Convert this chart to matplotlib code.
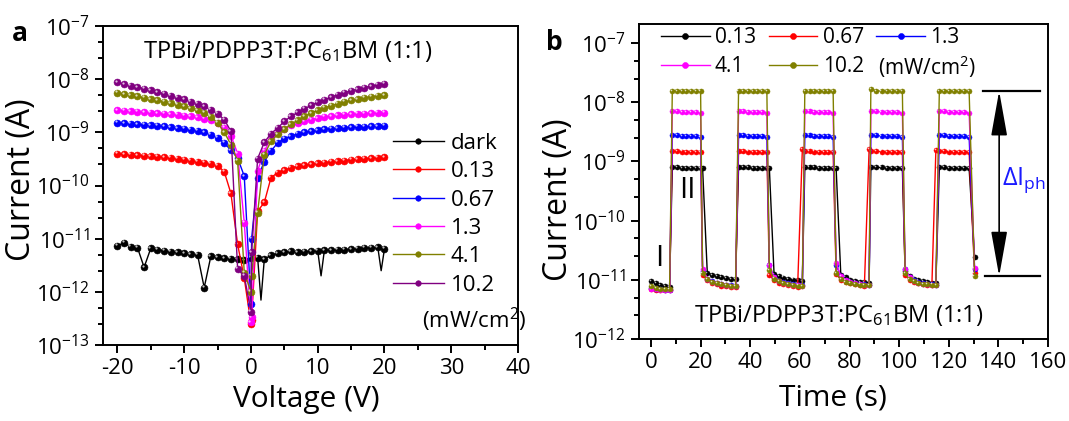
import matplotlib
matplotlib.use("Agg")
import matplotlib.pyplot as plt
from matplotlib.ticker import MultipleLocator, LogLocator, NullFormatter
from matplotlib.transforms import offset_copy

plt.rcParams["font.family"] = "Open Sans"
plt.rcParams["mathtext.fontset"] = "custom"
plt.rcParams["mathtext.rm"] = "Open Sans"
plt.rcParams["mathtext.it"] = "Open Sans:italic"
plt.rcParams["mathtext.bf"] = "Open Sans:bold"
plt.rcParams["axes.unicode_minus"] = False

# ---------------------------------------------------------------------------
# (a) I-V sweeps, dark and under illumination
# ---------------------------------------------------------------------------
dark_v = [-20, -19, -18, -17, -16, -15, -14, -13, -12, -11, -10, -9, -8, -7, -6,
          -5, -4, -3, -2, -1, 0, 1, 1.5, 2, 3, 4, 5, 6, 7, 8, 9, 10, 10.5,
          11, 12, 13, 14, 15, 16, 17, 18, 19, 19.5, 20]
dark_i = [7.3e-12, 8.4e-12, 7.0e-12, 6.8e-12, 2.9e-12, 6.6e-12, 6.2e-12, 5.9e-12,
          5.7e-12, 5.5e-12, 5.3e-12, 5.1e-12, 5.0e-12, 1.2e-12, 4.7e-12, 4.5e-12,
          4.3e-12, 4.2e-12, 4.1e-12, 3.9e-12, 4.4e-12, 4.4e-12, 7.0e-13, 4.1e-12,
          4.9e-12, 5.3e-12, 5.5e-12, 5.8e-12, 5.6e-12, 5.7e-12, 5.8e-12, 5.9e-12,
          2.0e-12, 6.1e-12, 6.1e-12, 6.2e-12, 6.2e-12, 6.35e-12, 6.5e-12, 6.7e-12,
          6.7e-12, 6.85e-12, 2.5e-12, 6.5e-12]

light_v = [-20, -19, -18, -17, -16, -15, -14, -13, -12, -11, -10, -9, -8, -7, -6,
           -5, -4, -3, -2, -1, 0, 0.1, 1, 2, 3, 4, 5, 6, 7, 8, 9, 10, 11, 12, 13,
           14, 15, 16, 17, 18, 19, 20]
iv_013 = [3.98e-10, 3.89e-10, 3.80e-10, 3.72e-10, 3.63e-10, 3.55e-10, 3.47e-10,
          3.39e-10, 3.31e-10, 3.16e-10, 3.05e-10, 2.95e-10, 2.82e-10, 2.69e-10,
          2.57e-10, 2.37e-10, 1.82e-10, 7.1e-11, 7.9e-12, 1.8e-12, 2.5e-13, 3.0e-13,
          3.3e-11, 4.8e-11, 1.4e-10, 1.75e-10, 1.95e-10, 2.14e-10, 2.29e-10, 2.40e-10,
          2.51e-10, 2.60e-10, 2.69e-10, 2.79e-10, 2.88e-10, 2.95e-10, 3.05e-10,
          3.13e-10, 3.20e-10, 3.27e-10, 3.35e-10, 3.43e-10]
iv_067 = [1.51e-9, 1.48e-9, 1.45e-9, 1.41e-9, 1.38e-9, 1.35e-9, 1.32e-9, 1.29e-9,
          1.24e-9, 1.20e-9, 1.16e-9, 1.12e-9, 1.07e-9, 1.0e-9, 9.1e-10, 7.9e-10,
          6.3e-10, 4.6e-10, 3.3e-10, 1.5e-10, 6.0e-13, 1.0e-11,
          1.41e-10, 2.82e-10, 4.47e-10, 6.31e-10, 7.59e-10, 8.51e-10, 9.33e-10,
          1.0e-9, 1.05e-9, 1.10e-9, 1.14e-9, 1.17e-9, 1.20e-9, 1.23e-9, 1.245e-9,
          1.26e-9, 1.27e-9, 1.29e-9, 1.30e-9, 1.32e-9]
iv_13 = [2.59e-9, 2.55e-9, 2.48e-9, 2.44e-9, 2.38e-9, 2.34e-9, 2.28e-9, 2.24e-9,
         2.19e-9, 2.12e-9, 2.06e-9, 2.0e-9, 1.91e-9, 1.81e-9, 1.68e-9, 1.51e-9,
         1.21e-9, 8.7e-10, 4.0e-10, 2.0e-11, 2.7e-13, 3.3e-13,
         1.9e-10, 4.47e-10, 7.59e-10, 1.0e-9, 1.17e-9, 1.35e-9, 1.48e-9, 1.62e-9,
         1.74e-9, 1.84e-9, 1.95e-9, 2.02e-9, 2.09e-9, 2.14e-9, 2.19e-9, 2.24e-9,
         2.26e-9, 2.29e-9, 2.32e-9, 2.34e-9]
iv_41 = [5.55e-9, 5.25e-9, 4.94e-9, 4.73e-9, 4.47e-9, 4.22e-9, 3.98e-9, 3.76e-9,
         3.55e-9, 3.31e-9, 3.09e-9, 2.86e-9, 2.59e-9, 2.31e-9, 1.95e-9, 1.51e-9,
         1.0e-9, 5.9e-10, 2.9e-10, 2.3e-12, 1.0e-12, 2.0e-12,
         3.1e-11, 3.8e-10, 6.76e-10, 9.12e-10, 1.15e-9, 1.41e-9, 1.70e-9, 2.0e-9,
         2.29e-9, 2.60e-9, 2.88e-9, 3.16e-9, 3.47e-9, 3.72e-9, 3.98e-9, 4.22e-9,
         4.47e-9, 4.68e-9, 4.84e-9, 5.01e-9]
iv_102 = [8.71e-9, 8.05e-9, 7.50e-9, 7.08e-9, 6.61e-9, 6.17e-9, 5.69e-9, 5.31e-9,
          4.90e-9, 4.52e-9, 4.17e-9, 3.80e-9, 3.47e-9, 3.09e-9, 2.66e-9, 2.24e-9,
          1.74e-9, 1.05e-9, 2.7e-12, 2.0e-12, 4.2e-13, 5.5e-12,
          3.21e-10, 6.50e-10, 9.46e-10, 1.21e-9, 1.61e-9, 2.00e-9, 2.37e-9, 2.78e-9,
          3.21e-9, 3.65e-9, 4.09e-9, 4.59e-9, 5.08e-9, 5.54e-9, 6.04e-9, 6.49e-9,
          6.97e-9, 7.38e-9, 7.82e-9, 8.17e-9]

# ---------------------------------------------------------------------------
# (b) on/off switching at 20 V
# ---------------------------------------------------------------------------
time_s = [0.0, 1.9, 3.8, 5.7, 7.5,
          8.6, 10.5, 12.4, 14.3, 16.2, 18.1, 20.0,
          20.8, 22.7, 24.6, 26.5, 28.4, 30.3, 32.2, 34.1,
          35.3, 37.2, 39.1, 41.0, 42.9, 44.8, 46.7,
          47.7, 49.6, 51.5, 53.4, 55.3, 57.2, 59.1, 61.0,
          62.0, 63.9, 65.8, 67.7, 69.6, 71.5, 73.4,
          74.6, 76.5, 78.4, 80.3, 82.2, 84.1, 86.0, 87.9,
          88.6, 90.8, 92.9, 95.0, 97.1, 99.2, 101.3,
          102.4, 104.2, 106.0, 107.8, 109.6, 111.4, 113.2, 114.8,
          116.2, 118.2, 120.2, 122.2, 124.2, 126.2, 128.2,
          130.4]
pd_013 = [9.6e-12, 8.7e-12, 8.2e-12, 7.8e-12, 7.6e-12,
          8.0e-10, 7.9e-10, 7.8e-10, 7.8e-10, 7.7e-10, 7.7e-10, 7.7e-10,
          7.8e-10, 1.3e-11, 1.22e-11, 1.16e-11, 1.11e-11, 1.07e-11, 1.04e-11, 1.02e-11,
          8.1e-10, 8.0e-10, 7.9e-10, 7.8e-10, 7.8e-10, 7.7e-10, 7.7e-10,
          7.8e-10, 1.25e-11, 1.15e-11, 1.09e-11, 1.04e-11, 1.01e-11, 9.8e-12, 9.6e-12,
          8.0e-10, 7.9e-10, 7.9e-10, 7.8e-10, 7.8e-10, 7.7e-10, 7.7e-10,
          7.8e-10, 1.2e-11, 1.1e-11, 1.0e-11, 9.6e-12, 9.3e-12, 9.1e-12, 9.0e-12,
          8.0e-10, 7.9e-10, 7.9e-10, 7.8e-10, 7.8e-10, 7.7e-10, 7.7e-10,
          1.4e-11, 1.15e-11, 1.05e-11, 9.8e-12, 9.4e-12, 9.1e-12, 8.9e-12, 8.8e-12,
          8.0e-10, 7.9e-10, 7.8e-10, 7.8e-10, 7.7e-10, 7.7e-10, 7.6e-10,
          2.4e-11]
pd_067 = [7.0e-12, 6.8e-12, 6.7e-12, 6.6e-12, 6.6e-12,
          1.5e-9, 1.48e-9, 1.47e-9, 1.46e-9, 1.45e-9, 1.45e-9, 1.44e-9,
          1.2e-11, 9.8e-12, 8.9e-12, 8.4e-12, 8.0e-12, 7.8e-12, 7.6e-12, 7.5e-12,
          1.5e-9, 1.48e-9, 1.47e-9, 1.46e-9, 1.45e-9, 1.45e-9, 1.44e-9,
          1.2e-11, 9.9e-12, 9.0e-12, 8.5e-12, 8.1e-12, 7.9e-12, 7.7e-12, 1.6e-9,
          1.5e-9, 1.48e-9, 1.47e-9, 1.46e-9, 1.45e-9, 1.45e-9, 1.44e-9,
          1.25e-11, 1.0e-11, 9.2e-12, 8.7e-12, 8.4e-12, 8.2e-12, 8.0e-12, 1.6e-9,
          1.5e-9, 1.48e-9, 1.47e-9, 1.46e-9, 1.45e-9, 1.45e-9, 1.44e-9,
          1.2e-11, 1.0e-11, 9.3e-12, 8.8e-12, 8.5e-12, 8.3e-12, 8.2e-12, 1.55e-9,
          1.5e-9, 1.48e-9, 1.47e-9, 1.46e-9, 1.45e-9, 1.45e-9, 1.44e-9,
          1.3e-11]
pd_13 = [7.3e-12, 7.0e-12, 6.9e-12, 6.8e-12, 6.8e-12,
         2.8e-9, 2.75e-9, 2.7e-9, 2.7e-9, 2.65e-9, 2.65e-9, 2.6e-9,
         1.4e-11, 1.05e-11, 9.5e-12, 8.9e-12, 8.6e-12, 8.3e-12, 8.1e-12, 8.0e-12,
         2.8e-9, 2.75e-9, 2.7e-9, 2.7e-9, 2.65e-9, 2.65e-9, 2.6e-9,
         1.75e-11, 1.1e-11, 9.7e-12, 9.1e-12, 8.7e-12, 8.4e-12, 8.2e-12, 8.1e-12,
         2.8e-9, 2.75e-9, 2.7e-9, 2.7e-9, 2.65e-9, 2.65e-9, 2.6e-9,
         1.8e-11, 1.15e-11, 1.0e-11, 9.3e-12, 8.9e-12, 8.6e-12, 8.4e-12, 8.3e-12,
         2.8e-9, 2.75e-9, 2.7e-9, 2.7e-9, 2.65e-9, 2.65e-9, 2.6e-9,
         1.5e-11, 1.1e-11, 9.8e-12, 9.2e-12, 8.8e-12, 8.6e-12, 8.4e-12, 8.3e-12,
         2.8e-9, 2.75e-9, 2.7e-9, 2.7e-9, 2.65e-9, 2.65e-9, 2.6e-9,
         1.5e-11]
pd_41 = [7.1e-12, 6.9e-12, 6.8e-12, 6.7e-12, 6.7e-12,
         7.2e-9, 7.0e-9, 6.9e-9, 6.9e-9, 6.8e-9, 6.8e-9, 6.7e-9,
         1.55e-11, 1.05e-11, 9.3e-12, 8.7e-12, 8.4e-12, 8.2e-12, 8.0e-12, 7.9e-12,
         7.2e-9, 7.0e-9, 6.9e-9, 6.9e-9, 6.8e-9, 6.8e-9, 6.7e-9,
         1.75e-11, 1.1e-11, 9.5e-12, 8.9e-12, 8.5e-12, 8.3e-12, 8.1e-12, 8.0e-12,
         7.2e-9, 7.0e-9, 6.9e-9, 6.9e-9, 6.8e-9, 6.8e-9, 6.7e-9,
         1.9e-11, 1.15e-11, 9.9e-12, 9.1e-12, 8.7e-12, 8.4e-12, 8.3e-12, 8.2e-12,
         7.2e-9, 7.0e-9, 6.9e-9, 6.9e-9, 6.8e-9, 6.8e-9, 6.7e-9,
         1.55e-11, 1.1e-11, 9.6e-12, 9.0e-12, 8.6e-12, 8.4e-12, 8.3e-12, 8.2e-12,
         7.2e-9, 7.0e-9, 6.9e-9, 6.9e-9, 6.8e-9, 6.8e-9, 6.7e-9,
         1.6e-11]
pd_102 = [7.9e-12, 7.3e-12, 7.1e-12, 7.0e-12, 6.9e-12,
          1.57e-8, 1.56e-8, 1.55e-8, 1.54e-8, 1.54e-8, 1.53e-8, 1.52e-8,
          1.29e-11, 1.02e-11, 9.3e-12, 8.7e-12, 8.4e-12, 8.2e-12, 7.9e-12, 7.8e-12,
          1.57e-8, 1.56e-8, 1.55e-8, 1.54e-8, 1.54e-8, 1.53e-8, 1.52e-8,
          1.46e-11, 1.05e-11, 9.4e-12, 8.8e-12, 8.4e-12, 8.2e-12, 8.0e-12, 7.9e-12,
          1.57e-8, 1.56e-8, 1.55e-8, 1.54e-8, 1.54e-8, 1.53e-8, 1.52e-8,
          1.3e-11, 1.02e-11, 9.3e-12, 8.8e-12, 8.5e-12, 8.3e-12, 8.2e-12, 8.1e-12,
          1.66e-8, 1.56e-8, 1.55e-8, 1.54e-8, 1.54e-8, 1.53e-8, 1.52e-8,
          1.29e-11, 1.02e-11, 9.4e-12, 8.9e-12, 8.6e-12, 8.4e-12, 8.3e-12, 8.2e-12,
          1.57e-8, 1.56e-8, 1.55e-8, 1.54e-8, 1.54e-8, 1.53e-8, 1.52e-8,
          1.15e-11]

# photocurrent bracket: on level, off level and its time position
dI_high = 1.55e-8
dI_low = 1.15e-11
dI_t = 140.3

BLACK, RED, BLUE = "#000000", "#ff0000", "#0000ff"
MAGENTA, OLIVE, PURPLE = "#ff00ff", "#808000", "#800080"


def draw(ax, x, y, color, ms, label=None, markevery=None):
    """Line + ball markers with a small specular spot."""
    line, = ax.plot(x, y, color=color, lw=1.0, marker="o", ms=ms, mfc=color,
                    mec=color, mew=0.4, markevery=markevery, label=label)
    shine = offset_copy(ax.transData, fig=ax.figure, x=-0.22 * ms,
                        y=0.22 * ms, units="points")
    ax.plot(x, y, ls="none", marker="o", ms=ms * 0.32, mfc="white", mec="none",
            alpha=0.75, transform=shine, markevery=markevery)
    return line


def style_axes(ax, major, minor):
    ax.set_yscale("log")
    for s in ax.spines.values():
        s.set_linewidth(1.4)
    ax.xaxis.set_major_locator(MultipleLocator(major))
    ax.xaxis.set_minor_locator(MultipleLocator(minor))
    ax.yaxis.set_major_locator(LogLocator(base=10, numticks=20))
    ax.yaxis.set_minor_locator(LogLocator(base=10, subs=(2.5, 5.0), numticks=20))
    ax.yaxis.set_minor_formatter(NullFormatter())
    ax.tick_params(which="both", direction="out", top=False, right=False,
                   labelsize=16, width=1.4)
    ax.tick_params(which="major", length=6)
    ax.tick_params(which="minor", length=3.5)


fig = plt.figure(figsize=(10.69, 4.21), dpi=100)
ax_a = fig.add_axes([0.0964, 0.1805, 0.3882, 0.7577])
ax_b = fig.add_axes([0.5978, 0.1948, 0.3826, 0.7482])

# --- panel a ---
style_axes(ax_a, 10, 5)
dark_marks = [v == int(v) for v in dark_v]
handles_a = [
    draw(ax_a, dark_v, dark_i, BLACK, 5, "dark", markevery=dark_marks),
    draw(ax_a, light_v, iv_013, RED, 5, "0.13"),
    draw(ax_a, light_v, iv_067, BLUE, 5, "0.67"),
    draw(ax_a, light_v, iv_13, MAGENTA, 5, "1.3"),
    draw(ax_a, light_v, iv_41, OLIVE, 5, "4.1"),
    draw(ax_a, light_v, iv_102, PURPLE, 5, "10.2"),
]
ax_a.set_xlim(-22.15, 40)
ax_a.set_ylim(1e-13, 1e-7)
ax_a.set_xlabel("Voltage (V)", fontsize=21.5)
ax_a.set_ylabel("Current (A)", fontsize=23)
ax_a.xaxis.set_label_coords(0.49, -0.125)
ax_a.yaxis.set_label_coords(-0.157, 0.517)
ax_a.legend(handles=handles_a, loc="upper left", bbox_to_anchor=(0.698, 0.665),
            frameon=False, fontsize=16, handlelength=2.3, handletextpad=0.3,
            labelspacing=0.33, borderpad=0, borderaxespad=0, markerscale=0.8)
ax_a.text(0.768, 0.078, "(mW/cm$^2$)", transform=ax_a.transAxes, fontsize=16,
          ha="left", va="center")
ax_a.text(0.446, 0.899, "TPBi/PDPP3T:PC$_{61}$BM (1:1)", transform=ax_a.transAxes,
          fontsize=17, ha="center", va="baseline")
fig.text(0.011, 0.902, "a", fontsize=19, fontweight="bold", va="baseline")

# --- panel b ---
style_axes(ax_b, 20, 10)
l013 = draw(ax_b, time_s, pd_013, BLACK, 3.6, "0.13")
l067 = draw(ax_b, time_s, pd_067, RED, 3.6, "0.67")
l13 = draw(ax_b, time_s, pd_13, BLUE, 3.6, "1.3")
l41 = draw(ax_b, time_s, pd_41, MAGENTA, 3.6, "4.1")
l102 = draw(ax_b, time_s, pd_102, OLIVE, 3.6, "10.2")
ax_b.set_xlim(-4.8, 160)
ax_b.set_ylim(1e-12, 2.1e-7)
ax_b.set_xlabel("Time (s)", fontsize=21.5)
ax_b.set_ylabel("Current (A)", fontsize=23)
ax_b.xaxis.set_label_coords(0.474, -0.14)
ax_b.yaxis.set_label_coords(-0.156, 0.441)
# row-major order: 0.13 0.67 1.3 / 4.1 10.2
ax_b.legend(handles=[l013, l41, l067, l102, l13], loc="upper left",
            bbox_to_anchor=(0.053, 0.99), ncol=3, frameon=False, fontsize=15,
            handlelength=2.35, handletextpad=0.25, labelspacing=0.4,
            columnspacing=0.6, borderpad=0, borderaxespad=0, markerscale=1.2)
ax_b.text(0.584, 0.864, "(mW/cm$^2$)", transform=ax_b.transAxes, fontsize=15,
          ha="left", va="center")
ax_b.text(0.488, 0.055, "TPBi/PDPP3T:PC$_{61}$BM (1:1)", transform=ax_b.transAxes,
          fontsize=17, ha="center", va="baseline")
ax_b.text(0.050, 0.254, "I", transform=ax_b.transAxes, fontsize=21,
          ha="center", va="center")
ax_b.text(0.119, 0.47, "II", transform=ax_b.transAxes, fontsize=21,
          ha="center", va="center")

# photocurrent bracket
ax_b.plot([133.9, 156.9], [dI_high, dI_high], color="black", lw=1.6)
ax_b.plot([134.5, 156.9], [dI_low, dI_low], color="black", lw=1.6)
ax_b.annotate("", xy=(dI_t, dI_high), xytext=(dI_t, dI_low),
              arrowprops=dict(arrowstyle="<|-|>,head_length=1.4,head_width=0.25",
                              color="black", lw=1.2, shrinkA=0, shrinkB=0,
                              mutation_scale=20))
ax_b.text(141.6, 4.9e-10, r"$\Delta$I$_{\mathrm{ph}}$", color="#1a1aff",
          fontsize=18, ha="left", va="center")
fig.text(0.511, 0.882, "b", fontsize=19, fontweight="bold", va="baseline")

fig.savefig("out.png", dpi=100)
